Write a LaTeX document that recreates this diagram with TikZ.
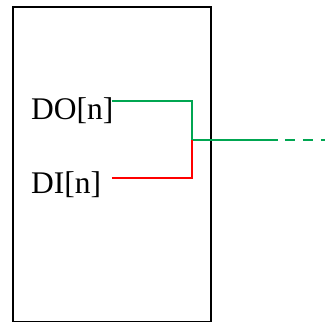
\documentclass[tikz,border=0pt]{standalone}
\usepackage{fontspec}
\setmainfont{Liberation Serif}
\definecolor{wiregreen}{RGB}{0,166,81}
\definecolor{wirered}{RGB}{255,0,0}
\begin{document}
\begin{tikzpicture}[x=1pt,y=-1pt,
  block/.style={draw=black,line width=1.8pt},
  pinlabel/.style={anchor=base west,inner sep=0pt,font=\fontsize{31.5}{38}\selectfont},
  wire/.style={line width=1.7pt},
  outwire/.style={wire,draw=wiregreen},
  inwire/.style={wire,draw=wirered}]
\useasboundingbox (0,0) rectangle (325,322);
\node[block,minimum width=198pt,minimum height=315pt,inner sep=0pt,anchor=north west] (box) at (12,6) {};
\node[pinlabel] (do) at (31,119.5) {DO[n]};
\node[pinlabel] (di) at (31,193.5) {DI[n]};
\coordinate (doPin) at (112,101);
\coordinate (diPin) at (112,178);
\coordinate (join) at (192,140);
\coordinate (solidEnd) at (278,140);
\coordinate (farEnd) at (325,140);
\draw[outwire] (doPin) -| (join) -- (solidEnd);
\draw[outwire,dash pattern=on 10pt off 8pt,dash phase=-7pt] (solidEnd) -- (farEnd);
\draw[inwire] (diPin) -| (join);
\end{tikzpicture}
\end{document}
